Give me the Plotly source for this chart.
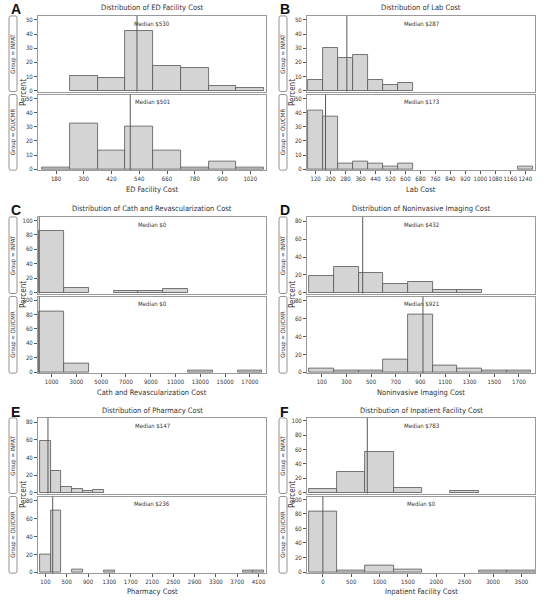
import plotly.graph_objects as go

W, H = 547, 600

# ---------------- data ----------------
ed_bins = [180, 300, 420, 540, 660, 780, 900, 1020]
ed_inpat = [0, 10.7, 8.8, 42.5, 17.6, 16.2, 3.4, 1.7]
ed_oucmr = [1.4, 32.4, 13, 30.2, 13, 1.4, 5.5, 1.4]
ed_medians = [530, 501]
ed_ticks = [180, 300, 420, 540, 660, 780, 900, 1020]

lab_bins = [120, 200, 280, 360, 440, 520, 600, 680, 760, 840, 920, 1000, 1080, 1160, 1240]
lab_inpat = [7.4, 30.3, 22.9, 25.2, 7.3, 3.7, 5.1, 0, 0, 0, 0, 0, 0, 0, 0]
lab_oucmr = [41.5, 37.5, 3.9, 5.2, 3.9, 1.8, 3.9, 0, 0, 0, 0, 0, 0, 0, 1.8]
lab_medians = [287, 173]
lab_ticks = [120, 200, 280, 360, 440, 520, 600, 680, 760, 840, 920, 1000, 1080, 1160, 1240]

cath_bins = [1000, 3000, 5000, 7000, 9000, 11000, 13000, 15000, 17000]
cath_inpat = [85.5, 6.5, 0, 1.5, 1.5, 5, 0, 0, 0]
cath_oucmr = [84.2, 11.2, 0, 0, 0, 0, 1.8, 0, 1.8]
cath_medians = [0, 0]
cath_ticks = [1000, 3000, 5000, 7000, 9000, 11000, 13000, 15000, 17000]

img_bins = [100, 300, 500, 700, 900, 1100, 1300, 1500, 1700]
img_inpat = [18.8, 28.6, 22.5, 9.8, 12, 3.2, 3.2, 0, 0]
img_oucmr = [4.4, 2.2, 2.2, 13.9, 65.3, 8, 4.4, 2.2, 2.2]
img_medians = [432, 921]
img_ticks = [100, 300, 500, 700, 900, 1100, 1300, 1500, 1700]

ph_bins = [100, 300, 500, 700, 900, 1100, 1300, 1500, 1700, 1900, 2100, 2300, 2500,
           2700, 2900, 3100, 3300, 3500, 3700, 3900, 4100]
ph_inpat = [58.5, 24.5, 6.6, 4.6, 1.8, 3.2, 0, 0, 0, 0, 0, 0, 0, 0, 0, 0, 0, 0, 0, 0, 0]
ph_oucmr = [20.3, 69.2, 0, 3.6, 0, 0, 1.8, 0, 0, 0, 0, 0, 0, 0, 0, 0, 0, 0, 0, 1.8, 1.8]
ph_medians = [147, 236]
ph_ticks = [100, 500, 900, 1300, 1700, 2100, 2500, 2900, 3300, 3700, 4100]

inp_bins = [0, 500, 1000, 1500, 2000, 2500, 3000, 3500]
inp_inpat = [4.5, 28, 57.2, 6.5, 0, 1.5, 0, 0]
inp_oucmr = [83.4, 2.7, 9.5, 4, 0, 0, 2.7, 2.7]
inp_medians = [783, 0]
inp_ticks = [0, 500, 1000, 1500, 2000, 2500, 3000, 3500]

groups = ["Group = INPAT", "Group = OU/CMR"]

panels = [
    dict(letter="A", title="Distribution of ED Facility Cost", xlabel="ED Facility Cost",
         bins=ed_bins, bw=120, vals=[ed_inpat, ed_oucmr], med=ed_medians, ticks=ed_ticks,
         xr=[102, 1088], yr=[-0.7, 52.8], yt=[0, 10, 20, 30, 40, 50], col=0, row=0),
    dict(letter="B", title="Distribution of Lab Cost", xlabel="Lab Cost",
         bins=lab_bins, bw=80, vals=[lab_inpat, lab_oucmr], med=lab_medians, ticks=lab_ticks,
         xr=[74, 1292], yr=[-0.7, 52.8], yt=[0, 10, 20, 30, 40, 50], col=1, row=0),
    dict(letter="C", title="Distribution of Cath and Revascularization Cost",
         xlabel="Cath and Revascularization Cost",
         bins=cath_bins, bw=2000, vals=[cath_inpat, cath_oucmr], med=cath_medians, ticks=cath_ticks,
         xr=[-100, 18300], yr=[-1.5, 105], yt=[0, 20, 40, 60, 80, 100], col=0, row=1),
    dict(letter="D", title="Distribution of Noninvasive Imaging Cost", xlabel="Noninvasive Imaging Cost",
         bins=img_bins, bw=200, vals=[img_inpat, img_oucmr], med=img_medians, ticks=img_ticks,
         xr=[-20, 1830], yr=[-1, 85], yt=[0, 20, 40, 60, 80], col=1, row=1),
    dict(letter="E", title="Distribution of Pharmacy Cost", xlabel="Pharmacy Cost",
         bins=ph_bins, bw=200, vals=[ph_inpat, ph_oucmr], med=ph_medians, ticks=ph_ticks,
         xr=[-40, 4240], yr=[-1, 85], yt=[0, 20, 40, 60, 80], col=0, row=2),
    dict(letter="F", title="Distribution of Inpatient Facility Cost", xlabel="Inpatient Facility Cost",
         bins=inp_bins, bw=500, vals=[inp_inpat, inp_oucmr], med=inp_medians, ticks=inp_ticks,
         xr=[-280, 3740], yr=[-1.5, 104], yt=[0, 20, 40, 60, 80, 100], col=1, row=2),
]

# ---------------- geometry (pixels) ----------------
COLS = [(38, 266), (307, 535)]
ROWS = [((15, 91), (94, 170), 7, 176, 189),
        ((217, 294), (297, 374), 209, 381, 393),
        ((419, 495), (498, 575), 412, 582, 593)]
STRIP_X = [(9, 17), (279, 287)]
PERCENT_X = [23, 292]
LETTER_X = [9, 278]

FONT = "Liberation Sans Narrow, DejaVu Sans Condensed, Lato, sans-serif"
TXT = "#333333"
FRAME = "#9a9a9a"
BARFILL = "#d4d4d4"
BARLINE = "#555555"
MEDLINE = "#5a5a5a"


def px(x):
    return x / W


def py(y):
    return 1 - y / H


def ax(letter, k):
    return letter if k == 1 else f"{letter}{k}"


fig = go.Figure()
shapes = []
annotations = []
layout = {}

for p, pan in enumerate(panels):
    x0, x1 = COLS[pan["col"]]
    subs = ROWS[pan["row"]][:2]
    ty, tky, aty = ROWS[pan["row"]][2:]
    for g in range(2):
        k = 2 * p + g + 1
        y0, y1 = subs[g]
        xs = [b for b, v in zip(pan["bins"], pan["vals"][g]) if v > 0]
        ys = [v for v in pan["vals"][g] if v > 0]
        fig.add_trace(go.Bar(
            x=xs, y=ys, width=pan["bw"], xaxis=ax("x", k), yaxis=ax("y", k),
            marker=dict(color=BARFILL, line=dict(color=BARLINE, width=0.8)),
            showlegend=False, hoverinfo="skip"))
        bottom = g == 1
        layout[f"xaxis{k}"] = dict(
            domain=[px(x0), px(x1)], anchor=ax("y", k), range=pan["xr"],
            tickvals=pan["ticks"] if bottom else [],
            ticktext=[str(t) for t in pan["ticks"]] if bottom else [],
            tickangle=0,
            showticklabels=bottom, ticks="outside" if bottom else "",
            ticklen=3, tickwidth=0.8, tickcolor="#555",
            tickfont=dict(family=FONT, size=6, color=TXT),
            showline=True, mirror=True, linecolor=FRAME, linewidth=1,
            showgrid=False, zeroline=False, fixedrange=True)
        layout[f"yaxis{k}"] = dict(
            domain=[py(y1), py(y0)], anchor=ax("x", k), range=pan["yr"],
            tickvals=pan["yt"], ticks="outside", ticklen=3, tickwidth=0.8,
            tickcolor="#555", tickfont=dict(family=FONT, size=6, color=TXT),
            showline=True, mirror=True, linecolor=FRAME, linewidth=1,
            showgrid=False, zeroline=False, fixedrange=True)
        # median line
        shapes.append(dict(type="line", xref=ax("x", k), yref=ax("y", k) + " domain",
                           x0=pan["med"][g], x1=pan["med"][g], y0=0, y1=1,
                           line=dict(color=MEDLINE, width=1), layer="above"))
        annotations.append(dict(
            text=f"Median ${pan['med'][g]}", xref="paper", yref="paper",
            x=px((x0 + x1) / 2), y=py(y0 + 7.5), showarrow=False,
            xanchor="center", yanchor="middle",
            font=dict(family=FONT, size=6, color=TXT)))
        # group strip
        sx0, sx1 = STRIP_X[pan["col"]]
        r = 2
        X0, X1, Y0, Y1 = px(sx0), px(sx1), py(y0), py(y1)
        rx, ry = r / W, r / H
        path = (f"M {X0+rx},{Y0} L {X1-rx},{Y0} Q {X1},{Y0} {X1},{Y0-ry} "
                f"L {X1},{Y1+ry} Q {X1},{Y1} {X1-rx},{Y1} L {X0+rx},{Y1} "
                f"Q {X0},{Y1} {X0},{Y1+ry} L {X0},{Y0-ry} Q {X0},{Y0} {X0+rx},{Y0} Z")
        shapes.append(dict(type="path", xref="paper", yref="paper", path=path,
                           line=dict(color="#777", width=0.8), fillcolor="rgba(0,0,0,0)"))
        annotations.append(dict(
            text=groups[g], xref="paper", yref="paper",
            x=px((sx0 + sx1) / 2), y=py((y0 + y1) / 2), textangle=-90,
            showarrow=False, xanchor="center", yanchor="middle",
            font=dict(family=FONT, size=6, color=TXT)))
    # Percent label
    annotations.append(dict(
        text="Percent", xref="paper", yref="paper",
        x=px(PERCENT_X[pan["col"]]), y=py((subs[0][1] + subs[1][0]) / 2),
        textangle=-90, showarrow=False, xanchor="center", yanchor="middle",
        font=dict(family=FONT, size=8, color=TXT)))
    # title
    annotations.append(dict(
        text=pan["title"], xref="paper", yref="paper",
        x=px((x0 + x1) / 2), y=py(ty), showarrow=False,
        xanchor="center", yanchor="middle",
        font=dict(family=FONT, size=7.5, color=TXT)))
    # x axis title
    annotations.append(dict(
        text=pan["xlabel"], xref="paper", yref="paper",
        x=px((x0 + x1) / 2), y=py(aty), showarrow=False,
        xanchor="center", yanchor="middle",
        font=dict(family=FONT, size=7.5, color=TXT)))
    # panel letter
    annotations.append(dict(
        text=f"<b>{pan['letter']}</b>", xref="paper", yref="paper",
        x=px(LETTER_X[pan["col"]]), y=py(ty + 1), showarrow=False,
        xanchor="left", yanchor="middle",
        font=dict(family="Liberation Sans, Arial, sans-serif", size=14, color="#111")))

fig.update_layout(
    width=W, height=H, margin=dict(l=0, r=0, t=0, b=0),
    paper_bgcolor="white", plot_bgcolor="white",
    bargap=0, barmode="overlay", showlegend=False,
    shapes=shapes, annotations=annotations, **layout)

fig.write_html("out.html", config={"displayModeBar": False},
               post_script="document.body.style.margin='0';")
